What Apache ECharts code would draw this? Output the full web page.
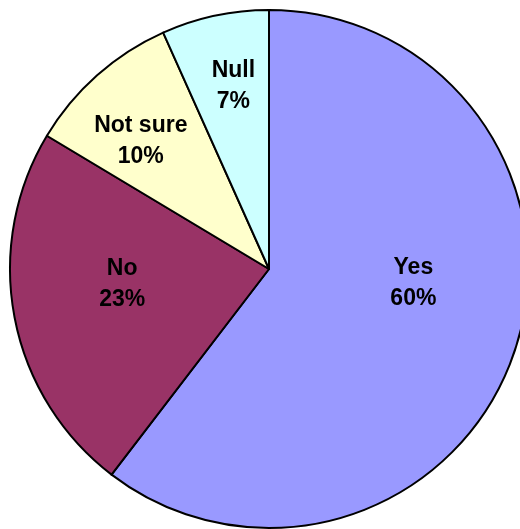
<!DOCTYPE html>
<html>
<head>
<meta charset="utf-8">
<script src="https://cdn.jsdelivr.net/npm/echarts@6/dist/echarts.min.js"></script>
<style>html,body{margin:0;padding:0;background:#fff}#c{width:520px;height:529px}</style>
</head>
<body>
<div id="c"></div>
<script>
var categories = ['Yes', 'No', 'Not sure', 'Null'];
var values = [60.4, 23.2, 9.7, 6.7];
var colors = ['#9999FF', '#993366', '#FFFFCC', '#CCFFFF'];
// label placement tweaks (absolute label angle in degrees from top, radius fraction), style only
var labelAngle = [95.5, 264, 315, 349];
var labelRadiusFrac = [0.56, 0.57, 0.70, 0.72];

var cx = 269, cy = 269, R = 259;

var chart = echarts.init(document.getElementById('c'), null, {renderer: 'canvas'});
chart.setOption({
  animation: false,
  series: [{
    type: 'pie',
    center: [cx, cy],
    radius: [0, R],
    startAngle: 90,
    clockwise: true,
    percentPrecision: 0,
    avoidLabelOverlap: false,
    data: categories.map(function(c, i){
      return {name: c, value: values[i], itemStyle: {color: colors[i]}};
    }),
    itemStyle: {borderColor: '#000', borderWidth: 2},
    emphasis: {disabled: true},
    label: {
      show: true,
      position: 'inside',
      formatter: '{b}\n{d}%',
      fontFamily: 'Liberation Sans, Arial, sans-serif',
      fontWeight: 'bold',
      fontSize: 23,
      lineHeight: 31,
      color: '#000',
      align: 'center',
      verticalAlign: 'middle'
    },
    labelLine: {show: false},
    labelLayout: function(p){
      var i = p.dataIndex;
      var a = labelAngle[i] * Math.PI / 180;
      var r = labelRadiusFrac[i] * R;
      return {x: cx + r * Math.sin(a), y: cy - r * Math.cos(a), align: 'center', verticalAlign: 'middle'};
    }
  }]
});
</script>
</body>
</html>
